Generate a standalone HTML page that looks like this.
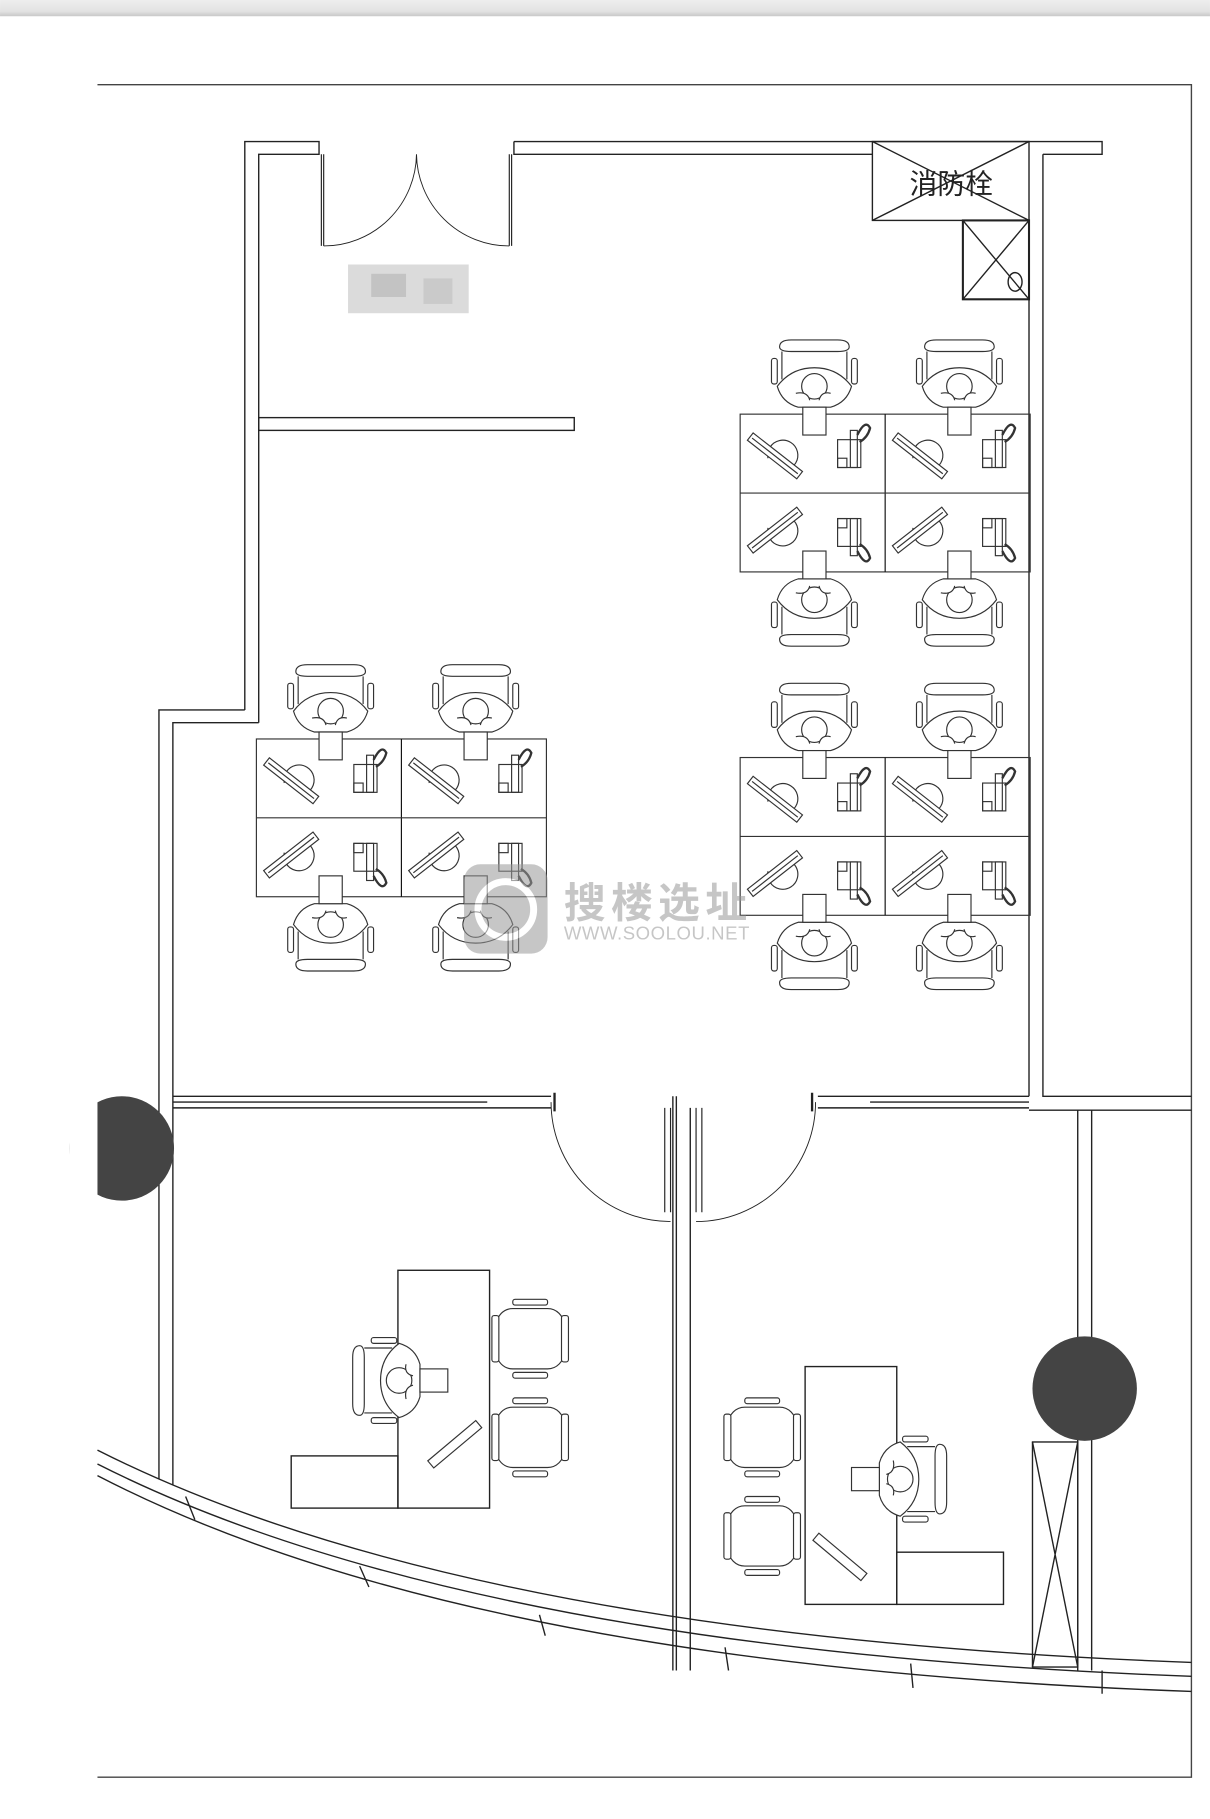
<!DOCTYPE html>
<html><head><meta charset="utf-8"><style>
html,body{margin:0;padding:0;background:#fff;}
svg{display:block;}
</style></head><body>
<svg width="1210" height="1819" viewBox="0 0 1043 1568" xmlns="http://www.w3.org/2000/svg">
<defs>
<linearGradient id="bar" x1="0" y1="0" x2="0" y2="1"><stop offset="0" stop-color="#eee"/><stop offset="0.7" stop-color="#e2e2e2"/><stop offset="1" stop-color="#c8c8c8"/></linearGradient>
<g id="seat" fill="#fff" stroke="#333" stroke-width="1">
  <path d="M-30,-58 Q-30,-64 -20,-64 L20,-64 Q30,-64 30,-58 Q30,-54 20,-54 L-20,-54 Q-30,-54 -30,-58Z"/>
  <rect x="-37" y="-48" width="5" height="22" rx="2"/>
  <rect x="32" y="-48" width="5" height="22" rx="2"/>
  <path d="M-28,-54 L-28,-30 M28,-54 L28,-30"/>
  <path d="M-32,-24 Q-20,-40 0,-40 Q20,-40 32,-24 Q28,-10 14,-6 L-14,-6 Q-28,-10 -32,-24Z"/>
  <rect x="-10" y="-6" width="20" height="24"/>
  <circle cx="0" cy="-24" r="11"/>
  <path d="M-16,-18 Q-6,-20 -4,-12 M14,-18 Q6,-20 4,-12"/>
</g>
<g id="cellT" fill="none" stroke="#333" stroke-width="1">
  <path d="M24,38 A13,13 0 1 1 40,48"/>
  <g transform="translate(30,36) rotate(38)"><rect x="-27" y="-4" width="54" height="8" fill="#fff"/><line x1="-25" y1="0" x2="25" y2="0"/></g>
  <rect x="84" y="22" width="20" height="24"/>
  <rect x="95" y="14" width="6" height="32"/>
  <rect x="84" y="38" width="8" height="8"/>
  <path d="M101,18 Q108,4 112,12 Q110,20 103,24" stroke-width="2"/>
</g>
<g id="pod">
  <rect x="0" y="0" width="250" height="136" fill="none" stroke="#333"/>
  <line x1="125" y1="0" x2="125" y2="136" stroke="#111"/>
  <line x1="0" y1="68" x2="250" y2="68" stroke="#333"/>
  <use href="#cellT" x="0" y="0"/>
  <use href="#cellT" x="125" y="0"/>
  <use href="#cellT" transform="translate(0,136) scale(1,-1)"/>
  <use href="#cellT" transform="translate(125,136) scale(1,-1)"/>
  <use href="#seat" x="64" y="0"/>
  <use href="#seat" x="189" y="0"/>
  <use href="#seat" transform="translate(64,136) scale(1,-1)"/>
  <use href="#seat" transform="translate(189,136) scale(1,-1)"/>
</g>
<g id="side" fill="#fff" stroke="#333">
  <rect x="0" y="8" width="58" height="52" rx="14"/>
  <rect x="-4" y="14" width="6" height="40" rx="2"/>
  <rect x="56" y="14" width="6" height="40" rx="2"/>
  <rect x="14" y="0" width="30" height="5" rx="2"/>
  <rect x="14" y="63" width="30" height="5" rx="2"/>
</g>
</defs>
<rect x="0" y="0" width="1043" height="14" fill="url(#bar)"/>
<g fill="none" stroke="#444" stroke-width="1.2">
  <path d="M84,73 L1027,73 L1027,1532 L84,1532"/>
</g>
<g fill="none" stroke="#222" stroke-width="1.2">
  <path d="M211,612 L211,122 L275,122 L275,133 L223,133 L223,612"/>
  <path d="M443,122 L950,122 L950,133 L899,133"/>
  <path d="M443,122 L443,133 L752,133"/>
  <path d="M211,612 L137,612 L137,1275 M223,623 L149,623 L149,1280 M223,612 L223,623"/>
  <path d="M887,190 L887,945 M899,133 L899,945 L1027,945 M887,957 L1027,957"/>
  <rect x="223" y="360" width="272" height="11"/>
  <path d="M149,945 L475,945 M149,955 L475,955 M149,950 L420,950 M705,945 L887,945 M705,955 L887,955 M750,950 L887,950"/>
  <path d="M580,945 L580,1440 M595,955 L595,1440 M583,945 L583,1440"/>
  <path d="M929,957 L929,1440 M941,957 L941,1440"/>
  <rect x="752" y="122" width="135" height="68"/>
  <path d="M752,122 L887,190 M887,122 L752,190"/>
  <rect x="830" y="190" width="57" height="68" stroke-width="1.8"/>
  <path d="M830,190 L887,258 M887,190 L830,258"/>
  <ellipse cx="875" cy="243" rx="6" ry="8"/>
  <path d="M277,133 L277,212 M279,133 L279,212 M439,133 L439,212 M441,133 L441,212" stroke-width="1"/>
  <path d="M279,212 A80,80 0 0 0 359,133 M439,212 A80,80 0 0 1 359,133" stroke-width="0.8"/>
  <path d="M475,950 A103,103 0 0 0 578,1053 M703,950 A103,103 0 0 1 600,1053" stroke-width="0.8"/>
  <path d="M573,955 L573,1045 M578,955 L578,1045 M600,955 L600,1045 M605,955 L605,1045" stroke-width="1"/>
  <path d="M478,942 L478,958 M700,942 L700,958" stroke-width="2"/>
  <path d="M84,1250 Q400,1410 1027,1433"/>
  <path d="M84,1262 Q400,1422 1027,1445"/>
  <path d="M84,1272 Q400,1436 1027,1458"/>
  <path d="M160,1290 L168,1310 M310,1350 L318,1368 M465,1392 L470,1410 M625,1420 L628,1440 M785,1434 L787,1455 M950,1440 L950,1460"/>
  <rect x="890" y="1243" width="39" height="194"/>
  <path d="M890,1243 L929,1437 M929,1243 L890,1437"/>
  <rect x="343" y="1095" width="79" height="205"/>
  <rect x="251" y="1255" width="92" height="45"/>
  <rect x="694" y="1178" width="79" height="205"/>
  <rect x="773" y="1338" width="92" height="45"/>
</g>
<circle cx="105" cy="990" r="45" fill="#444"/>
<rect x="60" y="940" width="24" height="100" fill="#fff"/>
<circle cx="935" cy="1197" r="45" fill="#444"/>
<text x="820" y="167" font-family="Liberation Sans, Noto Sans CJK SC, sans-serif" font-size="24" text-anchor="middle" fill="#222">消防栓</text>
<g opacity="0.7">
<rect x="300" y="228" width="104" height="42" fill="#ccc"/>
<rect x="320" y="236" width="30" height="20" fill="#aaa"/>
<rect x="365" y="240" width="25" height="22" fill="#b5b5b5"/>
</g>
<use href="#pod" x="638" y="357"/>
<use href="#pod" x="638" y="653"/>
<use href="#pod" x="221" y="637"/>
<use href="#side" x="428" y="1120"/>
<use href="#side" x="428" y="1205"/>
<use href="#side" x="628" y="1205"/>
<use href="#side" x="628" y="1290"/>
<use href="#seat" transform="translate(368,1190) rotate(-90)"/>
<use href="#seat" transform="translate(752,1275) rotate(90)"/>
<g transform="translate(392,1245) rotate(-40)" fill="#fff" stroke="#333"><rect x="-27" y="-4" width="54" height="8"/></g>
<g transform="translate(724,1342) rotate(40)" fill="#fff" stroke="#333"><rect x="-27" y="-4" width="54" height="8"/></g>
<g opacity="0.55">
<rect x="400" y="745" width="72" height="77" rx="14" fill="#999"/>
<circle cx="436" cy="784" r="24" fill="none" stroke="#fff" stroke-width="6"/>
<text x="486" y="791" font-family="Liberation Sans, Noto Sans CJK SC, sans-serif" font-size="36" font-weight="bold" fill="#999" textLength="158">搜楼选址</text>
<text x="486" y="810" font-family="Liberation Sans, sans-serif" font-size="16" fill="#999" textLength="160">WWW.SOOLOU.NET</text>
</g>
</svg>
</body></html>
